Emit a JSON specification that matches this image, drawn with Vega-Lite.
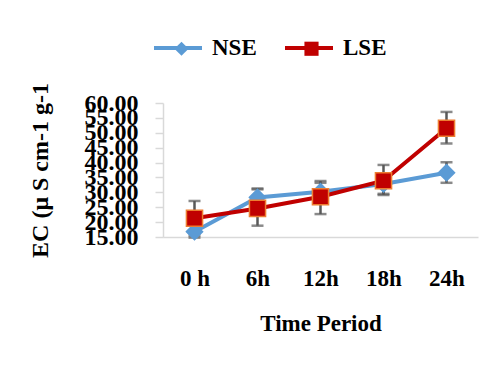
{
  "$schema": "https://vega.github.io/schema/vega-lite/v6.json",
  "autosize": "none",
  "width": 315,
  "height": 134,
  "padding": {"left": 163, "top": 103, "right": 25, "bottom": 142},
  "background": "white",
  "config": {
    "view": {"stroke": null},
    "font": "Times New Roman",
    "axisY": {"labelOverlap": false}
  },
  "data": {
    "values": [
      {"time": "0 h", "series": "NSE", "value": 16.8, "lo": 14.8, "hi": 18.8},
      {"time": "6h", "series": "NSE", "value": 28.3, "lo": 25.3, "hi": 31.3},
      {"time": "12h", "series": "NSE", "value": 30.2, "lo": 27.2, "hi": 33.2},
      {"time": "18h", "series": "NSE", "value": 32.8, "lo": 29.5, "hi": 36.1},
      {"time": "24h", "series": "NSE", "value": 36.6, "lo": 33.2, "hi": 40.1},
      {"time": "0 h", "series": "LSE", "value": 21.3, "lo": 15.5, "hi": 27.1},
      {"time": "6h", "series": "LSE", "value": 24.6, "lo": 18.8, "hi": 31.0},
      {"time": "12h", "series": "LSE", "value": 28.5, "lo": 22.7, "hi": 33.8},
      {"time": "18h", "series": "LSE", "value": 33.9, "lo": 29.1, "hi": 39.2},
      {"time": "24h", "series": "LSE", "value": 51.5, "lo": 46.4, "hi": 57.0}
    ]
  },
  "encoding": {
    "x": {
      "field": "time", "type": "ordinal",
      "scale": {"domain": ["0 h", "6h", "12h", "18h", "24h"], "type": "point", "padding": 0.5},
      "axis": {
        "title": "Time Period", "labelAngle": 0, "ticks": false,
        "domainColor": "#d9d9d9", "domainWidth": 1.5,
        "labelFont": "Times New Roman", "labelFontWeight": "bold", "labelFontSize": 23, "labelColor": "black",
        "labelPadding": 30,
        "titleFont": "Times New Roman", "titleFontWeight": "bold", "titleFontSize": 23, "titleColor": "black",
        "titlePadding": 22
      }
    },
    "y": {
      "field": "value", "type": "quantitative",
      "scale": {"domain": [15, 60], "nice": false, "zero": false},
      "axis": {
        "title": "EC (μ S cm-1 g-1",
        "values": [15, 20, 25, 30, 35, 40, 45, 50, 55, 60],
        "format": ".2f", "grid": false, "labelOverlap": false,
        "domainColor": "#d9d9d9", "domainWidth": 1.5,
        "tickColor": "#d9d9d9", "tickSize": 8, "tickWidth": 1.5,
        "labelFont": "Times New Roman", "labelFontWeight": "bold", "labelFontSize": 24, "labelColor": "black",
        "labelPadding": 17,
        "titleFont": "Times New Roman", "titleFontWeight": "bold", "titleFontSize": 24, "titleColor": "black",
        "titlePadding": 32
      }
    }
  },
  "resolve": {"scale": {"stroke": "independent"}, "legend": {"stroke": "independent"}},
  "layer": [
    {
      "transform": [{"fold": ["lo", "hi"], "as": ["bound", "value"]}],
      "mark": {"type": "line", "color": "#595959", "strokeWidth": 2.5},
      "encoding": {
        "detail": [{"field": "series", "type": "nominal"}, {"field": "time", "type": "nominal"}],
        "order": {"field": "bound", "type": "nominal"}
      }
    },
    {
      "transform": [{"fold": ["lo", "hi"], "as": ["bound", "value"]}],
      "mark": {"type": "tick", "color": "#595959", "size": 12, "thickness": 2.5}
    },
    {
      "mark": {"type": "line", "strokeWidth": 4},
      "encoding": {
        "stroke": {"field": "series", "type": "nominal",
          "scale": {"domain": ["NSE", "LSE"], "range": ["#5B9BD5", "#C00000"]},
          "legend": {
            "title": null, "orient": "none", "direction": "horizontal",
            "legendX": -11, "legendY": -81,
            "labelFont": "Times New Roman", "labelFontWeight": "bold", "labelFontSize": 23, "labelColor": "black",
            "symbolType": "stroke", "symbolSize": 2304, "symbolStrokeWidth": 4,
            "columnPadding": 20, "labelOffset": 8
          }
        }
      }
    },
    {
      "mark": {"type": "point", "filled": true, "opacity": 1, "size": 260, "strokeWidth": 1.5},
      "encoding": {
        "color": {"field": "series", "type": "nominal",
          "scale": {"domain": ["NSE", "LSE"], "range": ["#5B9BD5", "#C00000"]},
          "legend": {
            "title": null, "orient": "none", "direction": "horizontal",
            "legendX": 7, "legendY": -66,
            "labelFont": "Times New Roman", "labelFontWeight": "bold", "labelFontSize": 23, "labelOpacity": 0,
            "symbolSize": 200, "symbolOpacity": 1, "columnPadding": 54, "labelOffset": 8
          }
        },
        "shape": {"field": "series", "type": "nominal",
          "scale": {"domain": ["NSE", "LSE"], "range": ["diamond", "square"]}},
        "stroke": {"field": "series", "type": "nominal", "legend": null,
          "scale": {"domain": ["NSE", "LSE"], "range": ["#5B9BD5", "#ED7D31"]}}
      }
    }
  ]
}
